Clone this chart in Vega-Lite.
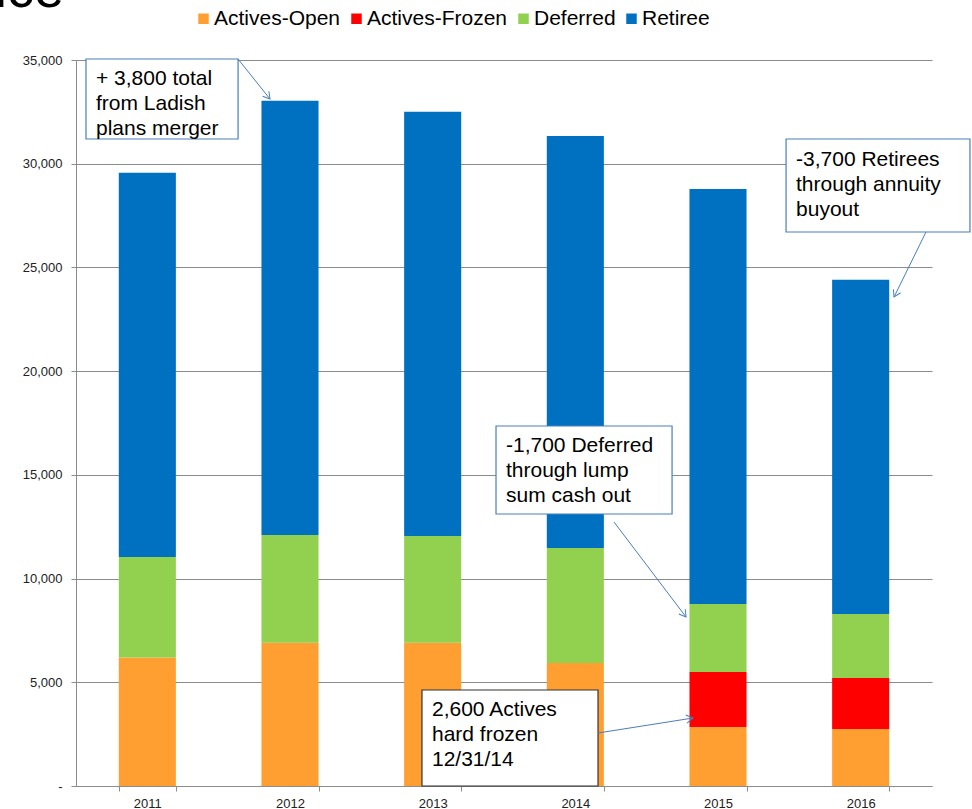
{
  "$schema": "https://vega.github.io/schema/vega-lite/v6.json",
  "width": 856,
  "height": 726,
  "autosize": {"type": "none"},
  "padding": {"left": 76, "top": 60, "right": 40, "bottom": 23},
  "background": "white",
  "config": {"font": "Liberation Sans", "view": {"stroke": null}},
  "datasets": {
    "bars": [
      {"year": "2011", "status": "Actives-Open", "count": 6200},
      {"year": "2011", "status": "Deferred", "count": 4840},
      {"year": "2011", "status": "Retiree", "count": 18520},
      {"year": "2012", "status": "Actives-Open", "count": 6900},
      {"year": "2012", "status": "Deferred", "count": 5200},
      {"year": "2012", "status": "Retiree", "count": 20930},
      {"year": "2013", "status": "Actives-Open", "count": 6900},
      {"year": "2013", "status": "Deferred", "count": 5150},
      {"year": "2013", "status": "Retiree", "count": 20450},
      {"year": "2014", "status": "Actives-Open", "count": 5930},
      {"year": "2014", "status": "Deferred", "count": 5540},
      {"year": "2014", "status": "Retiree", "count": 19870},
      {"year": "2015", "status": "Actives-Open", "count": 2850},
      {"year": "2015", "status": "Actives-Frozen", "count": 2650},
      {"year": "2015", "status": "Deferred", "count": 3270},
      {"year": "2015", "status": "Retiree", "count": 20010},
      {"year": "2016", "status": "Actives-Open", "count": 2750},
      {"year": "2016", "status": "Actives-Frozen", "count": 2460},
      {"year": "2016", "status": "Deferred", "count": 3080},
      {"year": "2016", "status": "Retiree", "count": 16110}
    ],
    "heading": [
      {"text": "ice", "hx": -0.568, "hy": 37556}
    ],
    "notes": [
      {"id": "ladish", "x1": 0.07, "x2": 1.136, "y1": 35048, "y2": 31192, "tx": 0.14, "ty": 33795, "text": "+ 3,800 total\nfrom Ladish\nplans merger"},
      {"id": "lump", "x1": 2.944, "x2": 4.178, "y1": 17356, "y2": 13113, "tx": 3.014, "ty": 16102, "text": "-1,700 Deferred\nthrough lump\nsum cash out"},
      {"id": "annuity", "x1": 4.977, "x2": 6.266, "y1": 31192, "y2": 26708, "tx": 5.047, "ty": 29890, "text": "-3,700 Retirees\nthrough annuity\nbuyout"},
      {"id": "frozen", "x1": 2.425, "x2": 3.659, "y1": 4628, "y2": 0, "tx": 2.495, "ty": 3375, "text": "2,600 Actives\nhard frozen\n12/31/14"}
    ],
    "arrows": [
      {"id": "ladish", "ax1": 1.1355, "ay1": 35048, "ax2": 1.3598, "ay2": 33120},
      {"id": "lump", "ax1": 3.771, "ay1": 12727, "ax2": 4.276, "ay2": 8147},
      {"id": "annuity", "ax1": 5.958, "ay1": 26708, "ax2": 5.734, "ay2": 23575},
      {"id": "frozen", "ax1": 3.659, "ay1": 2555, "ax2": 4.325, "ay2": 3278}
    ]
  },
  "layer": [
    {
      "data": {"name": "bars"},
      "transform": [{"calculate": "indexof(['Actives-Open', 'Actives-Frozen', 'Deferred', 'Retiree'], datum.status)", "as": "stackRank"}],
      "mark": {"type": "bar"},
      "encoding": {
        "x": {"field": "year", "type": "ordinal", "scale": {"paddingInner": 0.6, "paddingOuter": 0.3},
          "axis": {"title": null, "tickBand": "extent", "labelAngle": 0, "labelFontSize": 13, "labelColor": "#222", "domainColor": "#8c8c8c", "tickColor": "#8c8c8c", "tickSize": 5, "labelPadding": 6, "grid": false}},
        "y": {"field": "count", "type": "quantitative", "stack": "zero", "scale": {"domain": [0, 35000], "nice": false},
          "axis": {"title": null, "values": [0, 5000, 10000, 15000, 20000, 25000, 30000, 35000], "labelExpr": "datum.value == 0 ? '-' : format(datum.value, ',')", "grid": true, "gridColor": "#8c8c8c", "gridOpacity": 1, "domainColor": "#8c8c8c", "tickColor": "#8c8c8c", "tickSize": 5, "labelFontSize": 13, "labelColor": "#222", "labelPadding": 9}},
        "order": {"field": "stackRank", "type": "quantitative", "sort": "ascending"},
        "color": {"field": "status", "type": "nominal",
          "scale": {"domain": ["Actives-Open", "Actives-Frozen", "Deferred", "Retiree"], "range": ["#ff9f32", "#ff0000", "#92d050", "#0070c0"]},
          "legend": {"orient": "none", "legendX": 117, "legendY": -52, "direction": "horizontal", "title": null, "symbolType": "square", "symbolSize": 110, "symbolStrokeWidth": 0, "symbolOpacity": 1, "labelFontSize": 21, "labelColor": "black", "labelOffset": 0, "columnPadding": 5}}
      }
    },
    {
      "data": {"name": "heading"},
      "mark": {"type": "text", "align": "left", "baseline": "alphabetic", "fontSize": 54, "color": "black", "clip": false},
      "encoding": {
        "x": {"field": "hx", "type": "quantitative", "scale": {"domain": [0, 6], "nice": false, "zero": false}, "axis": null},
        "y": {"field": "hy", "type": "quantitative"},
        "text": {"field": "text"}
      }
    },
    {
      "data": {"name": "notes"},
      "transform": [{"filter": "datum.id != 'frozen'"}],
      "mark": {"type": "rect", "fill": "white", "stroke": "#4a7ebb", "strokeWidth": 1.2},
      "encoding": {
        "x": {"field": "x1", "type": "quantitative", "scale": {"domain": [0, 6], "nice": false, "zero": false}, "axis": null},
        "x2": {"field": "x2"},
        "y": {"field": "y1", "type": "quantitative"},
        "y2": {"field": "y2"}
      }
    },
    {
      "data": {"name": "notes"},
      "transform": [{"filter": "datum.id == 'frozen'"}],
      "mark": {"type": "rect", "fill": "white", "stroke": "#333333", "strokeWidth": 1.2},
      "encoding": {
        "x": {"field": "x1", "type": "quantitative", "scale": {"domain": [0, 6], "nice": false, "zero": false}, "axis": null},
        "x2": {"field": "x2"},
        "y": {"field": "y1", "type": "quantitative"},
        "y2": {"field": "y2"}
      }
    },
    {
      "data": {"name": "notes"},
      "mark": {"type": "text", "align": "left", "baseline": "alphabetic", "fontSize": 21, "lineBreak": "\n", "lineHeight": 25, "color": "black"},
      "encoding": {
        "x": {"field": "tx", "type": "quantitative", "scale": {"domain": [0, 6], "nice": false, "zero": false}, "axis": null},
        "y": {"field": "ty", "type": "quantitative"},
        "text": {"field": "text"}
      }
    },
    {
      "data": {"name": "arrows"},
      "mark": {"type": "rule", "stroke": "#4a7ebb", "strokeWidth": 1},
      "encoding": {
        "x": {"field": "ax1", "type": "quantitative", "scale": {"domain": [0, 6], "nice": false, "zero": false}, "axis": null},
        "x2": {"field": "ax2"},
        "y": {"field": "ay1", "type": "quantitative"},
        "y2": {"field": "ay2"}
      }
    },
    {
      "data": {"name": "arrows"},
      "transform": [{"filter": "datum.id == 'ladish'"}],
      "mark": {"type": "point", "shape": "M-0.6,1L0,0L0.6,1", "filled": false, "stroke": "#4a7ebb", "strokeWidth": 1, "size": 180, "angle": 141, "opacity": 1},
      "encoding": {
        "x": {"field": "ax2", "type": "quantitative", "scale": {"domain": [0, 6], "nice": false, "zero": false}, "axis": null},
        "y": {"field": "ay2", "type": "quantitative"}
      }
    },
    {
      "data": {"name": "arrows"},
      "transform": [{"filter": "datum.id == 'lump'"}],
      "mark": {"type": "point", "shape": "M-0.6,1L0,0L0.6,1", "filled": false, "stroke": "#4a7ebb", "strokeWidth": 1, "size": 180, "angle": 143, "opacity": 1},
      "encoding": {
        "x": {"field": "ax2", "type": "quantitative", "scale": {"domain": [0, 6], "nice": false, "zero": false}, "axis": null},
        "y": {"field": "ay2", "type": "quantitative"}
      }
    },
    {
      "data": {"name": "arrows"},
      "transform": [{"filter": "datum.id == 'annuity'"}],
      "mark": {"type": "point", "shape": "M-0.6,1L0,0L0.6,1", "filled": false, "stroke": "#4a7ebb", "strokeWidth": 1, "size": 180, "angle": 206, "opacity": 1},
      "encoding": {
        "x": {"field": "ax2", "type": "quantitative", "scale": {"domain": [0, 6], "nice": false, "zero": false}, "axis": null},
        "y": {"field": "ay2", "type": "quantitative"}
      }
    },
    {
      "data": {"name": "arrows"},
      "transform": [{"filter": "datum.id == 'frozen'"}],
      "mark": {"type": "point", "shape": "M-0.6,1L0,0L0.6,1", "filled": false, "stroke": "#4a7ebb", "strokeWidth": 1, "size": 180, "angle": 81, "opacity": 1},
      "encoding": {
        "x": {"field": "ax2", "type": "quantitative", "scale": {"domain": [0, 6], "nice": false, "zero": false}, "axis": null},
        "y": {"field": "ay2", "type": "quantitative"}
      }
    }
  ],
  "resolve": {"scale": {"x": "independent"}}
}
